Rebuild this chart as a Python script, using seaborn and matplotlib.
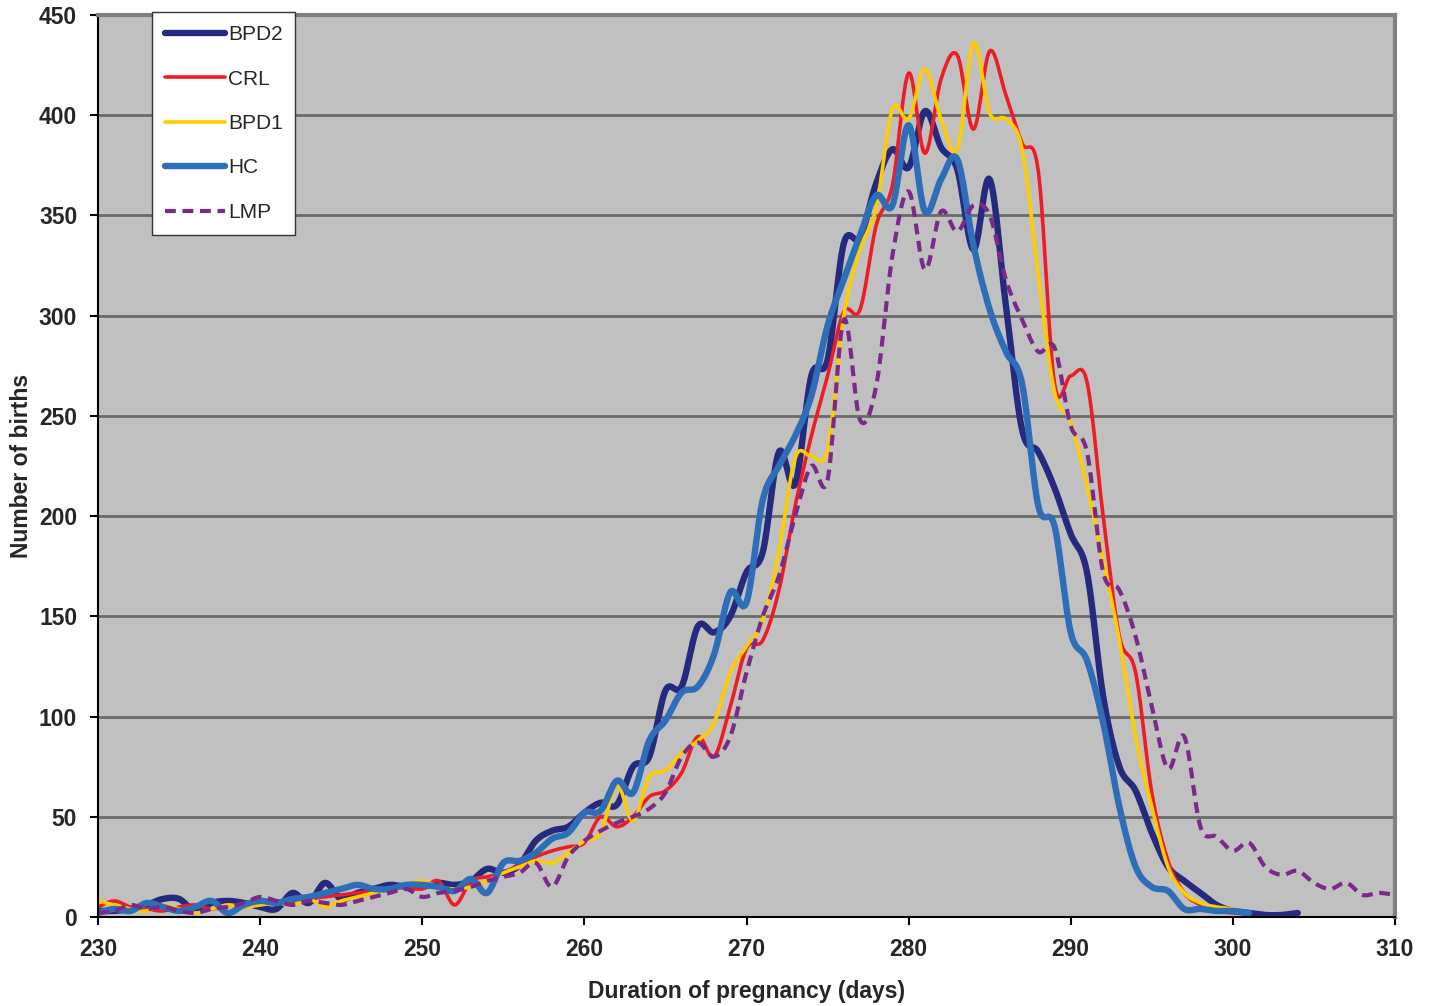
import numpy as np
import pandas as pd
import matplotlib
matplotlib.use("Agg")
import matplotlib.pyplot as plt
import seaborn as sns

# number of births per day of pregnancy
bpd2_start = 230
bpd2 = [3, 3, 4, 6, 9, 9, 3, 7, 8, 7,
        5, 4, 12, 7, 17, 9, 12, 14, 16, 15,
        15, 17, 16, 18, 24, 22, 26, 38, 43, 45,
        52, 57, 56, 75, 80, 113, 115, 145, 142, 150,
        172, 182, 232, 216, 270, 278, 336, 339, 366, 383,
        374, 402, 384, 373, 333, 368, 305, 243, 232, 214,
        191, 172, 110, 75, 63, 42, 25, 18, 12, 6,
        3, 2, 1, 1, 2]

crl_start = 230
crl = [5, 8, 5, 4, 3, 5, 6, 4, 6, 5,
       7, 8, 7, 9, 10, 11, 12, 13, 14, 15,
       14, 18, 6, 18, 20, 22, 26, 30, 33, 35,
       37, 50, 45, 50, 60, 63, 72, 90, 80, 105,
       134, 138, 163, 205, 240, 270, 302, 303, 345, 365,
       421, 381, 418, 430, 393, 432, 410, 386, 372, 266,
       270, 267, 200, 140, 122, 62, 28, 12, 6, 3,
       2]

bpd1_start = 230
bpd1 = [8, 6, 4, 3, 6, 4, 2, 4, 6, 5,
        6, 7, 6, 9, 5, 8, 10, 12, 14, 16,
        18, 15, 14, 15, 18, 22, 25, 28, 27, 32,
        38, 42, 66, 48, 70, 73, 82, 88, 97, 122,
        135, 148, 182, 229, 230, 233, 300, 333, 354, 403,
        398, 423, 398, 383, 436, 401, 398, 383, 320, 262,
        247, 215, 178, 138, 90, 55, 25, 12, 7, 5,
        4, 2]

hc_start = 230
hc = [2, 4, 3, 7, 5, 3, 5, 8, 2, 6,
      8, 7, 9, 10, 12, 14, 16, 14, 14, 16,
      16, 15, 13, 19, 12, 27, 28, 32, 39, 42,
      52, 53, 68, 62, 88, 98, 112, 115, 131, 162,
      157, 208, 225, 240, 260, 295, 318, 340, 360, 355,
      395, 352, 368, 378, 335, 303, 282, 266, 205, 195,
      142, 128, 97, 55, 25, 15, 13, 4, 4, 3,
      3, 2]

lmp_start = 230
lmp = [2, 3, 6, 4, 5, 3, 2, 4, 5, 7,
       10, 8, 6, 8, 7, 6, 8, 10, 12, 14,
       10, 12, 13, 15, 18, 20, 22, 27, 15, 30,
       38, 43, 47, 50, 54, 62, 80, 87, 80, 90,
       122, 150, 170, 200, 225, 218, 298, 248, 265, 330,
       362, 323, 352, 342, 355, 350, 318, 298, 282, 284,
       245, 232, 172, 163, 140, 105, 74, 90, 45, 40,
       33, 37, 25, 21, 23, 17, 14, 17, 11, 12,
       11]

x_ticks = list(range(230, 311, 10))
y_ticks = list(range(0, 451, 50))


def smooth(xs, ys, n=16):
    # excel style smoothed line (catmull-rom bezier through every point)
    x = np.asarray(xs, float)
    y = np.asarray(ys, float)
    px = np.concatenate([[x[0]], x, [x[-1]]])
    py = np.concatenate([[y[0]], y, [y[-1]]])
    t = np.linspace(0, 1, n, endpoint=False)[:, None]
    segs = []
    for i in range(len(x) - 1):
        p0 = np.array([px[i], py[i]])
        p1 = np.array([px[i + 1], py[i + 1]])
        p2 = np.array([px[i + 2], py[i + 2]])
        p3 = np.array([px[i + 3], py[i + 3]])
        b1 = p1 + (p2 - p0) / 6
        b2 = p2 - (p3 - p1) / 6
        seg = ((1 - t) ** 3) * p1 + 3 * ((1 - t) ** 2) * t * b1 \
            + 3 * (1 - t) * t ** 2 * b2 + t ** 3 * p2
        segs.append(seg)
    segs.append(np.array([[x[-1], y[-1]]]))
    pts = np.vstack(segs)
    return pts[:, 0], pts[:, 1]


series = [
    ("BPD2", bpd2_start, bpd2, "#262a7e", 4.6, "-"),
    ("CRL", crl_start, crl, "#ee1c25", 2.6, "-"),
    ("BPD1", bpd1_start, bpd1, "#ffcc00", 2.6, "-"),
    ("HC", hc_start, hc, "#2e6db8", 4.6, "-"),
    ("LMP", lmp_start, lmp, "#7b2a8c", 3.0, (0, (2.6, 1.6))),
]

sns.set_theme(style="white")
plt.rcParams["font.family"] = ["Liberation Sans", "DejaVu Sans"]

fig = plt.figure(figsize=(14.29, 10.06), dpi=100)
ax = fig.add_axes([0.0686, 0.0885, 0.9076, 0.8966])
ax.set_facecolor("#c0c0c0")

for name, start, vals, color, lw, ls in series:
    days = np.arange(start, start + len(vals))
    sx, sy = smooth(days, vals)
    df = pd.DataFrame({"day": sx, "births": sy})
    sns.lineplot(data=df, x="day", y="births", ax=ax, color=color,
                 linewidth=lw, linestyle=ls, label=name, sort=False,
                 estimator=None, solid_capstyle="round")

ax.set_xlim(230, 310)
ax.set_ylim(0, 450)
ax.set_xticks(x_ticks)
ax.set_yticks(y_ticks)
ax.set_axisbelow(True)
ax.yaxis.grid(True, color="#6a6a6a", linewidth=2.0)
ax.xaxis.grid(False)

for side in ["top", "right"]:
    ax.spines[side].set_color("#808080")
    ax.spines[side].set_linewidth(3)
for side in ["left", "bottom"]:
    ax.spines[side].set_color("black")
    ax.spines[side].set_linewidth(1.5)

ax.tick_params(axis="both", direction="out", length=6, width=1.5,
               color="black", labelsize=16.5, pad=9, left=True, bottom=True)
for lab in ax.get_xticklabels() + ax.get_yticklabels():
    lab.set_fontweight("bold")

ax.set_xlabel("Duration of pregnancy (days)", fontsize=16.5,
              fontweight="bold", labelpad=14)
ax.set_ylabel("Number of births", fontsize=16.5, fontweight="bold",
              labelpad=4)

leg = ax.legend(loc="upper left", bbox_to_anchor=(0.0416, 1.003),
                borderaxespad=0, frameon=True, fancybox=False,
                fontsize=15, handlelength=2.9, handletextpad=0.12,
                labelspacing=1.22, borderpad=0.62)
leg.get_frame().set_edgecolor("#333333")
leg.get_frame().set_linewidth(1.0)
leg.get_frame().set_facecolor("white")
leg.get_frame().set_alpha(1)

fig.savefig("out.png", dpi=100)
